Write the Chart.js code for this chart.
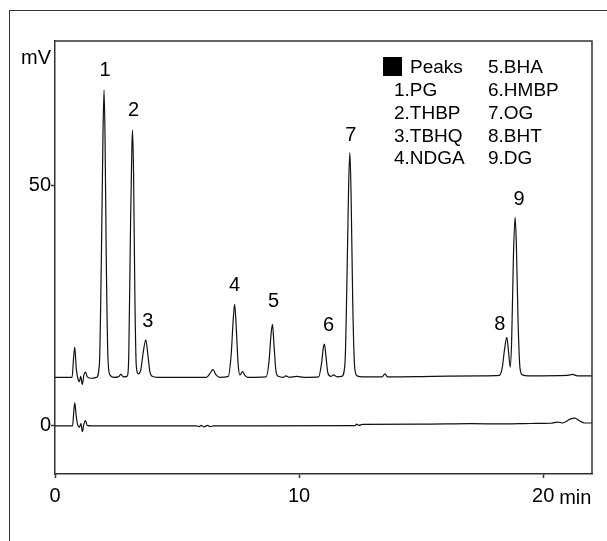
<!DOCTYPE html>
<html>
<head>
<meta charset="utf-8">
<script src="https://cdn.jsdelivr.net/npm/chart.js@4/dist/chart.umd.min.js"></script>
<style>
  html, body { margin: 0; padding: 0; background: #fff; }
  #wrap { width: 607px; height: 541px; position: relative; }
</style>
</head>
<body>
<div id="wrap"><canvas id="c" width="607" height="541"></canvas></div>
<script>
// ---- data ----
const xTicks = [0, 10, 20];
const yTicks = [0, 50];

// upper chromatogram (sample), minutes / mV as plotted
const sampleTime = [0,0.7,0.76,0.81,0.87,0.93,1.0,1.05,1.12,1.18,1.25,1.32,1.5,1.7,1.82,1.9,1.97,2.01,2.05,2.1,2.17,2.25,2.4,2.6,2.7,2.8,2.95,3.02,3.09,3.15,3.18,3.22,3.27,3.33,3.42,3.52,3.62,3.72,3.8,3.88,3.98,4.2,6.2,6.35,6.47,6.6,6.75,7.1,7.22,7.3,7.36,7.42,7.5,7.58,7.68,7.78,7.9,8.65,8.77,8.85,8.91,8.97,9.05,9.15,9.35,9.45,9.6,9.9,10.2,10.8,10.92,11.0,11.04,11.1,11.18,11.3,11.42,11.55,11.75,11.88,11.96,12.03,12.08,12.13,12.2,12.28,12.38,12.6,13.4,13.52,13.62,15.5,17.5,18.2,18.32,18.42,18.51,18.58,18.65,18.71,18.78,18.85,18.9,18.97,19.05,19.15,19.4,21.0,21.2,21.4,22];
const sampleSignal = [10.1,10.1,14,16.4,12,10,9.2,10.3,8.6,10.5,11.2,10.2,9.9,10.1,13,35,62,69.8,60,35,14,10.6,10.1,10.2,10.7,10.2,10.3,14,40,58,61.5,52,28,12.5,10.8,11.8,15.5,17.9,15,11.5,10.3,10.1,10.1,10.9,11.7,10.6,10.1,10.3,15,22,25.3,21,13,10.6,11.3,10.5,10.1,10.2,13.5,19,21.1,17,11.5,10.3,10.1,10.4,10.1,10.3,10.1,10.2,13,16.5,17.0,14.5,11,10.3,10.6,10.2,10.3,13,30,50,56.8,48,25,12,10.4,10.2,10.2,10.8,10.2,10.3,10.4,10.5,12,16,18.4,15.5,12.2,18,35,43.4,38,22,12,10.6,10.4,10.5,10.7,10.4,10.4];

// lower chromatogram (blank)
const blankTime = [0,0.72,0.77,0.81,0.87,0.93,1.0,1.06,1.12,1.18,1.25,1.32,1.5,5.8,5.9,6.0,6.1,6.25,6.35,6.5,12.3,12.35,12.45,12.6,15,17,18.5,19.5,20.3,20.6,20.8,21.1,21.3,21.5,21.7,22];
const blankSignal = [0,0,3,4.8,2,0.2,-0.3,0.5,-1.2,0.3,1.1,0.1,0,0,-0.15,0.1,-0.2,0.1,-0.15,0,0.05,0.35,0.1,0.3,0.35,0.45,0.4,0.5,0.55,0.8,0.6,1.4,1.6,1.0,0.6,0.6];

// peak labels: numbers, apex time and apex height
const peakNumbers = ['1','2','3','4','5','6','7','8','9'];
const peakTime = [2.01, 3.18, 3.72, 7.36, 8.91, 11.04, 12.08, 18.51, 18.85];
const peakHeight = [69.8, 61.5, 17.9, 25.3, 21.1, 17.0, 56.8, 18.4, 43.4];

// legend compounds
const compoundNames = ['PG','THBP','TBHQ','NDGA','BHA','HMBP','OG','BHT','DG'];
const legendTitle = 'Peaks';
const xUnit = 'min';
const yUnit = 'mV';

// ---- chart ----
const FONT = '"Liberation Sans", Arial, sans-serif';
const AXIS = '#333';

const toPts = (t, v) => t.map((x, i) => ({ x: x, y: v[i] }));

const decor = {
  id: 'decor',
  beforeDraw(chart) {
    const ctx = chart.ctx;
    ctx.save();
    ctx.fillStyle = '#fff';
    ctx.fillRect(0, 0, chart.width, chart.height);
    // outer frame (only left/top edges fall inside the picture)
    ctx.strokeStyle = '#333';
    ctx.lineWidth = 1;
    ctx.strokeRect(9.5, 10.5, 700, 700);
    ctx.restore();
  },
  afterDraw(chart) {
    const ctx = chart.ctx;
    const a = chart.chartArea;
    const xs = chart.scales.x, ys = chart.scales.y;
    ctx.save();
    // top & right of plot box
    ctx.strokeStyle = AXIS;
    ctx.lineWidth = 1.5;
    ctx.beginPath();
    ctx.moveTo(a.left, a.top);
    ctx.lineTo(a.right, a.top);
    ctx.lineTo(a.right, a.bottom);
    ctx.stroke();

    ctx.fillStyle = '#000';
    ctx.font = '20px ' + FONT;
    // unit labels
    ctx.textAlign = 'right';
    ctx.textBaseline = 'alphabetic';
    ctx.fillText(yUnit, a.left - 4, 64);
    ctx.textAlign = 'left';
    ctx.fillText(xUnit, xs.getPixelForValue(20) + 16, 504);

    // peak numbers
    const dx = [1, 1, 2, 0, 1, 4, 1, -7, 4];
    const dy = [20, 20, 18, 19, 23, 19, 17, 13, 18];
    ctx.textAlign = 'center';
    ctx.textBaseline = 'middle';
    peakNumbers.forEach((n, i) => {
      const px = xs.getPixelForValue(peakTime[i]) + dx[i];
      const py = ys.getPixelForValue(peakHeight[i]) - dy[i];
      ctx.fillText(n, px, py);
    });

    // legend block
    ctx.font = '19px ' + FONT;
    ctx.textAlign = 'left';
    const row0 = 68, rowH = 22.8;
    ctx.fillStyle = '#000';
    ctx.fillRect(383, 57, 19, 19);
    ctx.fillText(legendTitle, 410, row0);
    compoundNames.forEach((name, i) => {
      const label = (i + 1) + '.' + name;
      if (i < 4) ctx.fillText(label, 394, row0 + rowH * (i + 1));
      else ctx.fillText(label, 488, row0 + rowH * (i - 4));
    });
    ctx.restore();
  }
};

new Chart(document.getElementById('c'), {
  type: 'line',
  data: {
    datasets: [
      { data: toPts(sampleTime, sampleSignal), borderColor: '#111', borderWidth: 1.2,
        pointRadius: 0, cubicInterpolationMode: 'monotone', fill: false },
      { data: toPts(blankTime, blankSignal), borderColor: '#111', borderWidth: 1.2,
        pointRadius: 0, cubicInterpolationMode: 'monotone', fill: false }
    ]
  },
  options: {
    responsive: false,
    animation: false,
    events: [],
    layout: { padding: { left: 0, top: 41, right: 15, bottom: 0 } },
    plugins: { legend: { display: false }, tooltip: { enabled: false } },
    scales: {
      x: {
        type: 'linear', min: 0, max: 22,
        afterBuildTicks: s => { s.ticks = xTicks.map(v => ({ value: v })); },
        afterFit: s => { s.height = 67; },
        grid: { drawOnChartArea: false, tickLength: 4, tickColor: AXIS, tickWidth: 1.5 },
        border: { color: AXIS, width: 1.5 },
        ticks: { color: '#000', font: { family: FONT, size: 20 }, padding: 6, maxRotation: 0, autoSkip: false }
      },
      y: {
        type: 'linear', min: -10, max: 80,
        afterBuildTicks: s => { s.ticks = yTicks.map(v => ({ value: v })); },
        afterFit: s => { s.width = 55; },
        grid: { drawOnChartArea: false, tickLength: 4, tickColor: AXIS, tickWidth: 1.5 },
        border: { color: AXIS, width: 1.5 },
        ticks: { color: '#000', font: { family: FONT, size: 20 }, padding: 0, autoSkip: false }
      }
    }
  },
  plugins: [decor]
});
</script>
</body>
</html>
